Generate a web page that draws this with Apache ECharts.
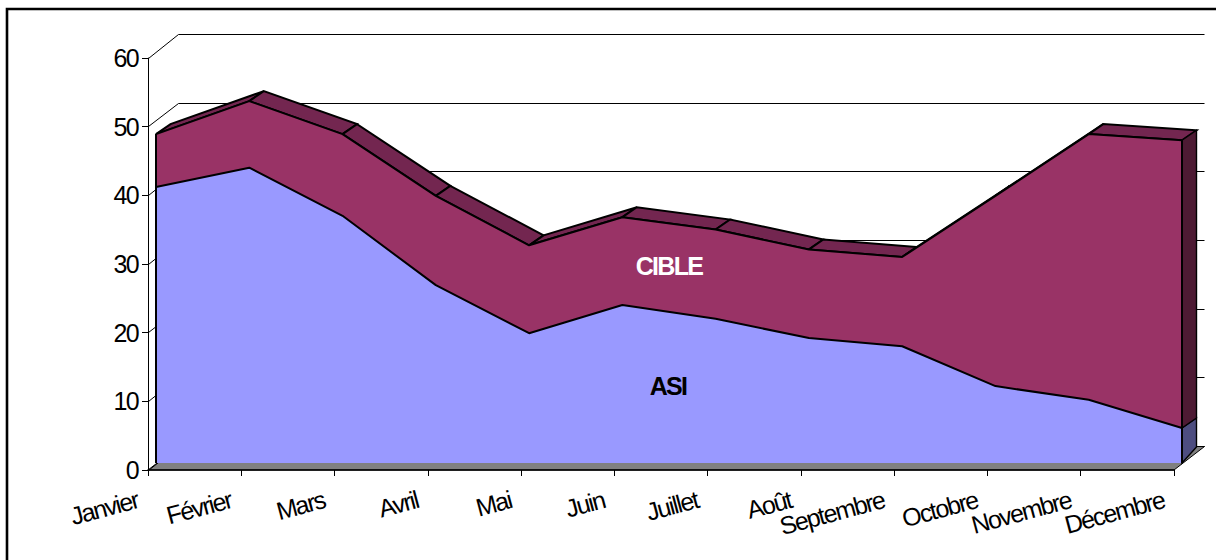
<!DOCTYPE html>
<html>
<head>
<meta charset="utf-8">
<style>
  html, body { margin: 0; padding: 0; background: #fff; }
  #chart { width: 1216px; height: 560px; overflow: hidden; }
  #chart text { letter-spacing: -1.7px; }
</style>
<script src="https://cdn.jsdelivr.net/npm/echarts@6/dist/echarts.min.js"></script>
</head>
<body>
<div id="chart"></div>
<script>
var months = ['Janvier', 'Février', 'Mars', 'Avril', 'Mai', 'Juin', 'Juillet', 'Août', 'Septembre', 'Octobre', 'Novembre', 'Décembre'];
var yTicks = [0, 10, 20, 30, 40, 50, 60];
var asi = [40.2, 43.0, 36.0, 25.9, 18.9, 23.0, 21.0, 18.2, 17.0, 11.2, 9.2, 5.1];
var cible = [7.7, 9.7, 11.9, 13.0, 12.8, 12.8, 13.0, 12.9, 13.0, 27.7, 38.7, 41.9];

var totals = asi.map(function(v, i) { return v + cible[i]; });
var last = months.length - 1;

// fake 3d: the walls sit behind the axes, the areas sit on a plane in between
var wallDx = 30.5, wallDy = -23.5;
var sideDx = 14.5, sideDy = -10;
var font = '"Liberation Sans", Arial, sans-serif';

function crisp(v) {
  return Math.floor(v) + 0.5;
}

function offset(p, dx, dy) {
  return [p[0] + dx, p[1] + dy];
}

function wallItem(params, api) {
  var v = yTicks[params.dataIndex];
  var a = api.coord([0, v]);
  var b = api.coord([last, v]);
  var y = crisp(b[1] + wallDy);
  return {
    type: 'polyline',
    shape: { points: [[crisp(a[0]), crisp(a[1])], [crisp(a[0] + wallDx), y], [b[0] + wallDx, y]] },
    style: { stroke: '#000', lineWidth: 1, fill: null }
  };
}

function floorItem(params, api) {
  var a = api.coord([0, 0]);
  var b = api.coord([last, 0]);
  return {
    type: 'polygon',
    shape: { points: [a, offset(a, wallDx, wallDy), offset(b, wallDx, wallDy), b] },
    style: { fill: '#808080', stroke: '#000', lineWidth: 1 }
  };
}

function topFaceItem(params, api) {
  var i = params.dataIndex;
  if(i >= last) return;
  var a = api.coord([i, totals[i]]);
  var b = api.coord([i + 1, totals[i + 1]]);
  return {
    type: 'polygon',
    shape: { points: [a, b, offset(b, sideDx, sideDy), offset(a, sideDx, sideDy)] },
    style: { fill: '#732650', stroke: '#000', lineWidth: 2 }
  };
}

function sidePanels(params, api) {
  var base = api.coord([last, 0]);
  var mid = api.coord([last, asi[last]]);
  var top = api.coord([last, totals[last]]);
  var line = function(p, q) {
    return { type: 'line', shape: { x1: p[0], y1: p[1], x2: q[0], y2: q[1] }, style: { stroke: '#000', lineWidth: 2 } };
  };
  var left = api.coord([0, 0]);
  var leftTop = api.coord([0, totals[0]]);
  return {
    type: 'group',
    children: [
      {
        type: 'polygon',
        shape: { points: [base, mid, offset(mid, sideDx, sideDy), offset(base, sideDx, -16)] },
        style: { fill: '#4d4d80', stroke: '#000', lineWidth: 1.4 }
      },
      {
        type: 'polygon',
        shape: { points: [mid, top, offset(top, sideDx, sideDy), offset(mid, sideDx, sideDy)] },
        style: { fill: '#4d1a33', stroke: '#000', lineWidth: 1.4 }
      },
      line(base, top),
      line(left, leftTop)
    ]
  };
}

var chart = echarts.init(document.getElementById('chart'), null, { renderer: 'svg' });

chart.setOption({
  animation: false,
  backgroundColor: '#fff',
  grid: [
    { left: 148, top: 58, width: 1026, height: 412 },
    { left: 156, top: 51, width: 1026, height: 412 }
  ],
  xAxis: [
    {
      type: 'category',
      data: months,
      boundaryGap: false,
      z: 5,
      axisLine: { lineStyle: { color: '#000', width: 1.5 } },
      axisTick: { length: 6, alignWithLabel: true, lineStyle: { color: '#000' } },
      axisLabel: {
        interval: 0,
        rotate: 15,
        margin: 26,
        padding: [0, 11, 0, 0],
        color: '#000',
        fontFamily: font,
        fontSize: 25
      },
      splitLine: { show: false }
    },
    { type: 'category', data: months, boundaryGap: false, gridIndex: 1, show: false }
  ],
  yAxis: [
    {
      type: 'value',
      min: 0,
      max: 60,
      interval: 10,
      z: 5,
      axisLine: { show: true, lineStyle: { color: '#000', width: 1 } },
      axisTick: { show: true, length: 6, lineStyle: { color: '#000' } },
      axisLabel: { margin: 10, color: '#000', fontFamily: font, fontSize: 25 },
      splitLine: { show: false }
    },
    { type: 'value', min: 0, max: 60, interval: 10, gridIndex: 1, show: false }
  ],
  graphic: [
    {
      type: 'rect',
      z: 100,
      shape: { x: 7, y: 9, width: 1300, height: 700 },
      style: { fill: null, stroke: '#000', lineWidth: 2.6 }
    },
    {
      type: 'text',
      z: 100,
      x: 669,
      y: 266,
      style: { text: 'CIBLE', fill: '#fff', font: 'bold 25px ' + font, textAlign: 'center', textVerticalAlign: 'middle' }
    },
    {
      type: 'text',
      z: 100,
      x: 668,
      y: 386,
      style: { text: 'ASI', fill: '#000', font: 'bold 25px ' + font, textAlign: 'center', textVerticalAlign: 'middle' }
    }
  ],
  series: [
    { name: 'floor', type: 'custom', z: 1, silent: true, renderItem: floorItem, data: [0] },
    { name: 'walls', type: 'custom', z: 1, silent: true, renderItem: wallItem, data: yTicks },
    { name: 'top', type: 'custom', z: 2, silent: true, xAxisIndex: 1, yAxisIndex: 1, renderItem: topFaceItem, data: totals },
    {
      name: 'ASI',
      type: 'line',
      z: 3,
      xAxisIndex: 1,
      yAxisIndex: 1,
      stack: 'total',
      clip: false,
      showSymbol: false,
      silent: true,
      lineStyle: { color: '#000', width: 2 },
      areaStyle: { color: '#9999ff', opacity: 1 },
      data: asi
    },
    {
      name: 'CIBLE',
      type: 'line',
      z: 3,
      xAxisIndex: 1,
      yAxisIndex: 1,
      stack: 'total',
      clip: false,
      showSymbol: false,
      silent: true,
      lineStyle: { color: '#000', width: 2 },
      areaStyle: { color: '#993366', opacity: 1 },
      data: cible
    },
    { name: 'side', type: 'custom', z: 4, silent: true, xAxisIndex: 1, yAxisIndex: 1, renderItem: sidePanels, data: [0] }
  ]
});
</script>
</body>
</html>
